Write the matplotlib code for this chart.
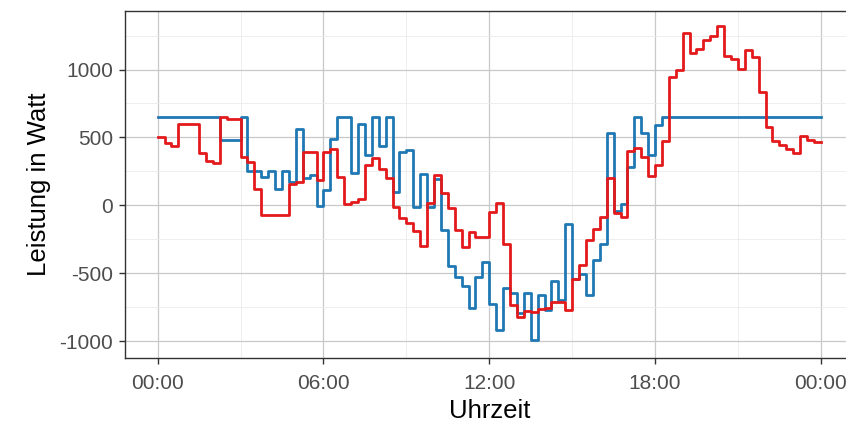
import matplotlib
import numpy as np

matplotlib.use("Agg")  # Non-interactive backend
import matplotlib.pyplot as plt

plt.rcParams["font.family"] = ["Liberation Sans", "DejaVu Sans"]

# Leistung je Viertelstunde (96 Werte, 00:00 .. 23:45)
blue_watt = [
    650, 650, 650, 650, 650, 650, 650, 650, 650, 480, 480, 480,
    650, 250, 250, 210, 250, 124, 250, 173, 561, 205, 222, -5,
    111, 487, 650, 650, 240, 598, 370, 650, 437, 650, 99, 390,
    407, -15, 230, -10, 195, -185, -450, -530, -593, -753, -531, -414,
    -730, -915, -605, -645, -790, -642, -990, -663, -773, -556, -695, -140,
    -540, -506, -660, -400, -284, 531, -45, 12, 284, 650, 536, 370,
    590, 650, 650, 650, 650, 650, 650, 650, 650, 650, 650, 650,
    650, 650, 650, 650, 650, 650, 650, 650, 650, 650, 650, 650,
]
red_watt = [
    500, 462, 440, 600, 600, 600, 383, 328, 309, 650, 637, 637,
    358, 321, 124, -74, -74, -74, -74, 156, 173, 390, 390, 190,
    395, 413, 210, 12, 25, 44, 296, 350, 267, 205, -12, -96,
    -130, -190, -301, 20, 227, 91, -18, -185, -304, -193, -230, -230,
    -49, 17, -284, -733, -822, -778, -782, -760, -753, -709, -709, -773,
    -543, -437, -254, -173, -86, 205, -60, -84, 400, 420, 358, 218,
    296, 476, 948, 995, 1267, 1120, 1148, 1217, 1247, 1321, 1099, 1074,
    1005, 1143, 1094, 832, 576, 474, 445, 413, 383, 513, 482, 465,
]

x_ticks = [0, 6, 12, 18, 24]
x_labels = ["00:00", "06:00", "12:00", "18:00", "00:00"]
y_ticks = [-1000, -500, 0, 500, 1000]
y_labels = ["-1000", "-500", "0", "500", "1000"]

# Zeitachse in Stunden, letzter Wert wird bis 24:00 gehalten
hours = np.arange(len(blue_watt) + 1) * 0.25


def _hold_last(values):
    return list(values) + [values[-1]]


fig = plt.figure(figsize=(8.46, 4.23), dpi=100)
ax = fig.add_axes([124.5 / 846, 1 - 358 / 423, (854 - 124.5) / 846, (358 - 11) / 423])

ax.step(hours, _hold_last(blue_watt), where="post", color="#1f78b4", lw=2.0)
ax.step(hours, _hold_last(red_watt), where="post", color="#e31a1c", lw=2.0)

ax.set_xlim(-1.2, 25.2)
ax.set_ylim(-1124, 1431)

ax.set_xticks(x_ticks)
ax.set_xticklabels(x_labels)
ax.set_xticks([3, 9, 15, 21], minor=True)
ax.set_yticks(y_ticks)
ax.set_yticklabels(y_labels)
ax.set_yticks([-750, -250, 250, 750, 1250], minor=True)

ax.set_axisbelow(True)
ax.grid(which="major", color="#c8c8c8", lw=0.9)
ax.grid(which="minor", color="#ebebeb", lw=0.6)

for sp in ax.spines.values():
    sp.set_color("#333333")
    sp.set_linewidth(1.0)

ax.tick_params(which="major", length=4, width=1.0, color="#333333",
               labelcolor="#4d4d4d", labelsize=15)
ax.tick_params(axis="y", pad=4.3)
ax.tick_params(axis="x", pad=7.5)
ax.tick_params(which="minor", length=0)

ax.set_xlabel("Uhrzeit", fontsize=18.5, labelpad=4.5)
ax.set_ylabel("Leistung in Watt", fontsize=18.5, labelpad=6)

fig.savefig("out.png", dpi=100)
plt.close(fig)
